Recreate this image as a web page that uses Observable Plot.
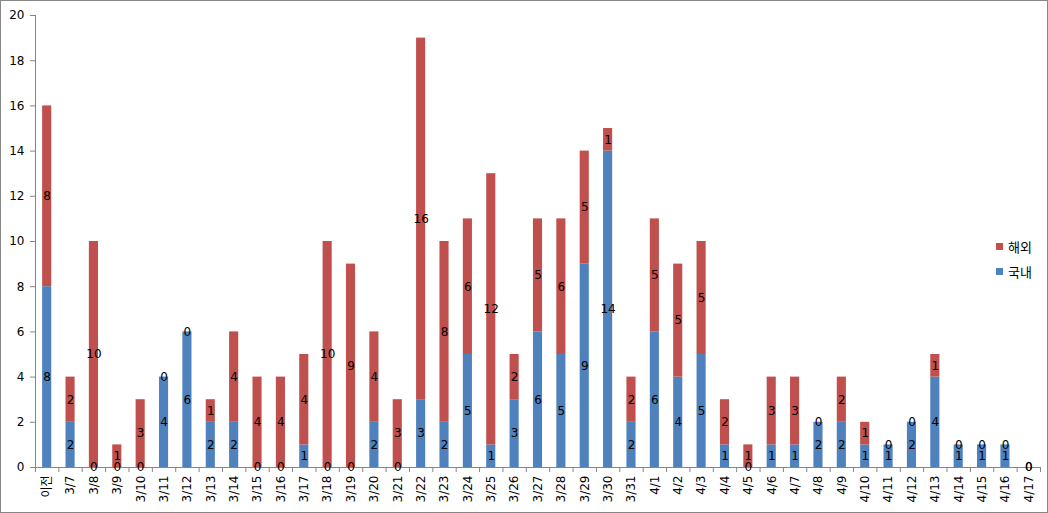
<!DOCTYPE html>
<html>
<head>
<meta charset="utf-8">
<script src="https://cdn.jsdelivr.net/npm/d3@7"></script>
<script src="https://cdn.jsdelivr.net/npm/@observablehq/plot@0.6"></script>
<style>
  html, body { margin: 0; padding: 0; background: #fff; }
  #wrap { position: relative; width: 1048px; height: 513px; overflow: hidden; }
  #border { position: absolute; left: 0; top: 0; width: 1048px; height: 513px; box-sizing: border-box; border: 1px solid #878787; pointer-events: none; }
  #legend { position: absolute; left: 996px; top: 234px; font-family: "Noto Sans CJK KR", sans-serif; font-size: 13px; color: #000; }
  .li { display: flex; align-items: center; height: 25px; }
  .sw { width: 7px; height: 7px; margin-right: 5px; }
  svg { display: block; }
</style>
</head>
<body>
<div id="wrap">
  <div id="chart"></div>
  <div id="legend"></div>
  <div id="border"></div>
</div>
<script>
const categories = ["이전","3/7","3/8","3/9","3/10","3/11","3/12","3/13","3/14","3/15","3/16","3/17","3/18","3/19","3/20","3/21","3/22","3/23","3/24","3/25","3/26","3/27","3/28","3/29","3/30","3/31","4/1","4/2","4/3","4/4","4/5","4/6","4/7","4/8","4/9","4/10","4/11","4/12","4/13","4/14","4/15","4/16","4/17"];
const domestic = [8,2,0,0,0,4,6,2,2,0,0,1,0,0,2,0,3,2,5,1,3,6,5,9,14,2,6,4,5,1,0,1,1,2,2,1,1,2,4,1,1,1,0];
const overseas = [8,2,10,1,3,0,0,1,4,4,4,4,10,9,4,3,16,8,6,12,2,5,6,5,1,2,5,5,5,2,1,3,3,0,2,1,0,0,1,0,0,0,0];
const seriesNames = ["국내", "해외"];
const seriesColors = ["#4F81BD", "#C0504D"];
const yTicks = [0,2,4,6,8,10,12,14,16,18,20];

const rows = [];
categories.forEach((c, i) => {
  const d = domestic[i], o = overseas[i];
  rows.push({cat: c, series: seriesNames[0], value: d, y1: 0, y2: d, mid: d / 2});
  rows.push({cat: c, series: seriesNames[1], value: o, y1: d, y2: d + o, mid: d + o / 2});
});

const W = 1048, H = 513, mL = 35, mR = 8, mT = 15, mB = 46;
const step = (W - mL - mR) / categories.length;
const axisGrey = "#868686";
const font = "'DejaVu Sans', 'Noto Sans CJK KR', sans-serif";

const chart = Plot.plot({
  width: W, height: H,
  marginLeft: mL, marginRight: mR, marginTop: mT, marginBottom: mB,
  style: {fontFamily: font, fontSize: "12px", color: "#000", background: "#fff"},
  x: {domain: categories, paddingInner: 0.61, paddingOuter: 0.305, round: false, label: null},
  y: {domain: [0, 20], label: null},
  color: {domain: seriesNames, range: seriesColors},
  marks: [
    Plot.barY(rows, {x: "cat", y1: "y1", y2: "y2", fill: "series"}),
    Plot.ruleY([0], {stroke: axisGrey}),
    Plot.ruleX([categories[0]], {x: d => d, y1: 0, y2: 20, dx: -step / 2, stroke: axisGrey}),
    Plot.ruleX(categories, {x: d => d, y1: 0, y2: 0, dx: -step / 2, insetBottom: -5, stroke: axisGrey}),
    Plot.ruleX([categories[categories.length - 1]], {x: d => d, y1: 0, y2: 0, dx: step / 2, insetBottom: -5, stroke: axisGrey}),
    Plot.axisY({ticks: yTicks, tickSize: 5, tickPadding: 6, stroke: axisGrey, fill: "#000", fontSize: 12}),
    Plot.axisX({tickSize: 0, tickPadding: 8, tickRotate: -90, fill: "#000", fontSize: 12}),
    Plot.text(rows, {x: "cat", y: "mid", text: d => String(d.value), fill: "#000", fontSize: 12})
  ]
});
document.getElementById("chart").appendChild(chart);

const legend = document.getElementById("legend");
[1, 0].forEach(k => {
  const item = document.createElement("div");
  item.className = "li";
  const sw = document.createElement("span");
  sw.className = "sw";
  sw.style.background = seriesColors[k];
  const t = document.createElement("span");
  t.textContent = seriesNames[k];
  item.appendChild(sw);
  item.appendChild(t);
  legend.appendChild(item);
});
</script>
</body>
</html>
